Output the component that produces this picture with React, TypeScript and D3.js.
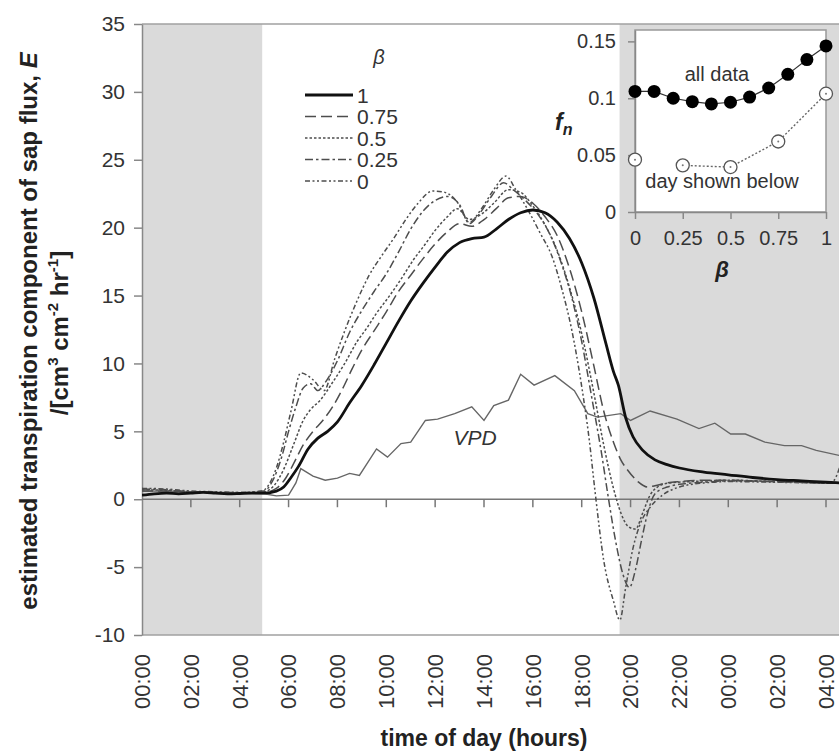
import { useEffect, useRef } from "react";
import * as d3 from "d3";

type Pt = [number, number];

// [hour since midnight of day 1, E (cm3 cm-2 hr-1)]
const beta1: Pt[] = [
  [0, 0.3], [0.5, 0.4], [1, 0.45], [1.5, 0.4], [2, 0.45], [2.5, 0.5], [3, 0.45], [3.5, 0.4],
  [4, 0.42], [4.5, 0.45], [5, 0.45], [5.5, 0.6], [5.8, 0.9], [6.1, 1.6], [6.4, 2.4], [6.8, 3.7],
  [7.2, 4.5], [7.6, 5.0], [8.0, 5.7], [8.5, 7.1], [9.0, 8.4], [9.5, 9.9], [10, 11.5], [10.5, 13.1],
  [11, 14.6], [11.5, 15.9], [12, 17.1], [12.5, 18.2], [13, 18.9], [13.5, 19.2], [14, 19.3],
  [14.5, 19.9], [15, 20.6], [15.5, 21.1], [16, 21.3], [16.5, 21.1], [17, 20.4], [17.5, 19.2],
  [18, 17.4], [18.5, 14.8], [19, 11.4], [19.3, 9.4], [19.5, 8.4], [19.8, 6.0], [20.1, 4.6],
  [20.5, 3.6], [21, 2.9], [21.5, 2.55], [22, 2.3], [23, 2.0], [24, 1.8], [25, 1.6], [26, 1.45],
  [27, 1.35], [28, 1.25], [28.6, 1.2],
];
const beta075: Pt[] = [
  [0, 0.6], [1, 0.6], [2, 0.5], [3, 0.5], [4, 0.45], [5, 0.5], [5.5, 0.8], [5.9, 1.6], [6.2, 2.6],
  [6.6, 4.0], [7.0, 5.0], [7.4, 5.8], [7.8, 6.8], [8.2, 8.1], [8.6, 9.6], [9.0, 11.0], [9.5, 12.4],
  [10, 13.8], [10.5, 15.3], [11, 16.5], [11.5, 17.7], [12, 18.8], [12.5, 19.7], [13, 20.3],
  [13.5, 20.1], [14, 20.6], [14.5, 21.4], [15, 22.2], [15.5, 22.3], [16, 21.8], [16.5, 20.8],
  [17, 19.4], [17.5, 17.0], [18, 13.8], [18.5, 9.8], [18.9, 6.5], [19.3, 4.2], [19.6, 2.9],
  [19.9, 2.1], [20.3, 1.3], [20.7, 0.9], [21, 1.0], [21.5, 1.2], [22, 1.3], [23, 1.4], [24, 1.4],
  [25, 1.35], [26, 1.3], [27, 1.25], [28, 1.2], [28.6, 1.2],
];
const beta05: Pt[] = [
  [0, 0.7], [1, 0.65], [2, 0.55], [3, 0.5], [4, 0.45], [5, 0.55], [5.4, 1.0], [5.8, 2.2],
  [6.2, 4.0], [6.6, 5.8], [6.9, 6.6], [7.3, 7.3], [7.8, 8.6], [8.3, 10.0], [8.8, 11.6], [9.2, 12.6],
  [9.6, 13.7], [10.1, 14.9], [10.6, 16.2], [11.1, 17.6], [11.6, 18.8], [12, 19.8], [12.5, 20.8],
  [12.9, 21.4], [13.4, 20.6], [13.9, 21.0], [14.4, 21.8], [15, 22.8], [15.5, 22.6], [16, 21.6],
  [16.5, 20.2], [17, 18.3], [17.5, 15.6], [18, 12.2], [18.5, 7.8], [18.9, 4.0], [19.3, 0.8],
  [19.6, -1.0], [19.9, -2.0], [20.2, -2.2], [20.5, -1.0], [20.8, 0.3], [21.1, 0.9], [21.6, 1.2],
  [22.5, 1.3], [24, 1.4], [26, 1.3], [28, 1.2], [28.6, 1.2],
];
const beta025: Pt[] = [
  [0, 0.75], [1, 0.7], [2, 0.55], [3, 0.5], [4, 0.5], [5, 0.6], [5.3, 1.2], [5.7, 3.0], [6.0, 5.0],
  [6.3, 6.8], [6.6, 8.2], [6.9, 8.5], [7.2, 8.0], [7.5, 8.6], [8, 10.2], [8.5, 12.3], [9, 13.9],
  [9.5, 15.3], [10, 16.6], [10.5, 18.2], [11, 19.9], [11.5, 21.2], [12, 22.0], [12.5, 22.3],
  [13, 21.7], [13.4, 20.3], [13.8, 21.0], [14.3, 22.3], [14.8, 23.3], [15.2, 22.8], [15.7, 22.0],
  [16.2, 21.0], [16.7, 19.5], [17.2, 17.2], [17.6, 14.8], [18, 11.6], [18.4, 7.6], [18.8, 3.5],
  [19.1, 0.0], [19.4, -3.2], [19.7, -5.6], [19.95, -6.5], [20.2, -5.2], [20.45, -3.0], [20.7, -1.0],
  [21.0, 0.4], [21.5, 0.9], [22, 1.1], [23, 1.25], [24, 1.35], [26, 1.3], [28, 1.2], [28.6, 1.2],
];
const beta0: Pt[] = [
  [0, 0.8], [1, 0.75], [2, 0.6], [3, 0.55], [4, 0.5], [4.9, 0.6], [5.2, 1.1], [5.5, 2.3], [5.8, 4.2],
  [6.1, 6.5], [6.5, 9.3], [7.0, 8.8], [7.45, 8.0], [7.9, 10.4], [8.3, 12.4], [8.8, 14.6], [9.3, 16.5],
  [9.8, 17.9], [10.3, 19.2], [10.8, 20.6], [11.3, 21.8], [11.9, 22.7], [12.4, 22.6], [12.9, 21.9],
  [13.4, 20.4], [13.9, 21.4], [14.4, 22.8], [14.9, 23.8], [15.3, 22.8], [15.8, 21.3], [16.3, 19.6],
  [16.8, 17.8], [17.2, 15.4], [17.6, 12.4], [18.0, 8.3], [18.3, 4.5], [18.55, 0.5], [18.9, -4.5],
  [19.3, -7.5], [19.56, -8.9], [19.8, -6.5], [20.1, -3.6], [20.4, -1.8], [20.8, -0.6], [21.3, 0.3],
  [22, 0.9], [23, 1.2], [24, 1.3], [26, 1.25], [28, 1.2], [28.2, 1.2], [28.45, 1.8], [28.6, 2.6],
];
const vpd: Pt[] = [
  [0, 0.6], [1, 0.6], [2, 0.55], [3, 0.5], [4, 0.45], [5, 0.4], [5.5, 0.25], [6.0, 0.3], [6.3, 1.2],
  [6.5, 2.25], [7.0, 1.7], [7.5, 1.4], [8.0, 1.55], [8.5, 1.9], [8.9, 1.75], [9.6, 3.7], [10.05, 3.1],
  [10.6, 4.1], [11.0, 4.2], [11.6, 5.8], [12.1, 5.9], [12.8, 6.3], [13.5, 6.8], [14.0, 5.8],
  [14.4, 6.9], [15.0, 7.3], [15.5, 9.2], [16.05, 8.4], [16.9, 9.1], [17.7, 8.0], [18.25, 6.3],
  [18.65, 6.05], [19.6, 6.3], [20.0, 5.8], [20.8, 6.5], [21.9, 5.9], [22.8, 5.2], [23.45, 5.6],
  [24.1, 4.8], [24.7, 4.8], [25.5, 4.2], [26.3, 3.95], [27.0, 3.95], [27.6, 3.6], [28.6, 3.2],
];

const betaLabels = ["1", "0.75", "0.5", "0.25", "0"];
const xTickHours = [0, 2, 4, 6, 8, 10, 12, 14, 16, 18, 20, 22, 24, 26, 28];
const xTickLabels = ["00:00", "02:00", "04:00", "06:00", "08:00", "10:00", "12:00", "14:00",
  "16:00", "18:00", "20:00", "22:00", "00:00", "02:00", "04:00"];
const yTicks = [-10, -5, 0, 5, 10, 15, 20, 25, 30, 35];
const nightSpans: Pt[] = [[0, 4.92], [19.55, 30]];

// inset: f_n against beta
const insetBeta = [0, 0.1, 0.2, 0.3, 0.4, 0.5, 0.6, 0.7, 0.8, 0.9, 1];
const insetAll = [0.106, 0.106, 0.1, 0.097, 0.095, 0.0965, 0.101, 0.109, 0.121, 0.134, 0.146];
const insetDayBeta = [0, 0.25, 0.5, 0.75, 1];
const insetDay = [0.046, 0.041, 0.0395, 0.062, 0.104];
const insetXTicks = [0, 0.25, 0.5, 0.75, 1];
const insetYTicks = [0, 0.05, 0.1, 0.15];

const FONT = "'Liberation Sans', Arial, Helvetica, sans-serif";

export default function App() {
  const ref = useRef<SVGSVGElement>(null);

  useEffect(() => {
    if (!ref.current) return;
    const svg = d3.select(ref.current);
    svg.selectAll("*").remove();
    svg.attr("font-family", FONT);

    const left = 142, right = 870, top = 24, bottom = 635;
    const x = d3.scaleLinear().domain([0, 28]).range([142, 826]);
    const y = d3.scaleLinear().domain([-10, 35]).range([bottom, top]);

    // night shading
    svg.append("g")
      .selectAll("rect")
      .data(nightSpans)
      .enter()
      .append("rect")
      .attr("x", (d) => x(d[0]))
      .attr("y", top)
      .attr("width", (d) => x(d[1]) - x(d[0]))
      .attr("height", bottom - top)
      .attr("fill", "#dadada");

    // frame
    svg.append("line").attr("x1", left).attr("x2", right).attr("y1", top).attr("y2", top)
      .attr("stroke", "#a0a0a0").attr("stroke-width", 1.5);
    svg.append("line").attr("x1", left).attr("x2", right).attr("y1", bottom).attr("y2", bottom)
      .attr("stroke", "#a0a0a0").attr("stroke-width", 1.5);

    // y axis
    const yAxis = svg.append("g").attr("transform", `translate(${left},0)`)
      .call(d3.axisLeft(y).tickValues(yTicks).tickSize(8).tickPadding(9).tickSizeOuter(0)
        .tickFormat((d) => String(d)));
    yAxis.select(".domain").attr("stroke", "#888").attr("stroke-width", 1.5);
    yAxis.selectAll(".tick line").attr("stroke", "#888").attr("stroke-width", 1.5);
    yAxis.selectAll("text").attr("font-size", 21).attr("fill", "#333").attr("font-family", FONT);

    // zero line with hour ticks
    svg.append("line").attr("x1", left).attr("x2", right).attr("y1", y(0)).attr("y2", y(0))
      .attr("stroke", "#777").attr("stroke-width", 1.5);
    svg.append("g").selectAll("line").data(xTickHours.slice(1)).enter().append("line")
      .attr("x1", (d) => x(d)).attr("x2", (d) => x(d))
      .attr("y1", y(0)).attr("y2", y(0) + 8)
      .attr("stroke", "#777").attr("stroke-width", 1.5);

    // x tick labels (rotated)
    svg.append("g").selectAll("text").data(xTickHours).enter().append("text")
      .attr("transform", (d) => `translate(${x(d)},654) rotate(-90)`)
      .attr("text-anchor", "end")
      .attr("dy", "0.36em")
      .attr("font-size", 22)
      .attr("fill", "#333")
      .text((d, i) => xTickLabels[i]);

    // axis titles
    svg.append("text")
      .attr("x", 484).attr("y", 746)
      .attr("text-anchor", "middle")
      .attr("font-size", 23).attr("font-weight", "bold").attr("fill", "#222")
      .text("time of day (hours)");

    const t1 = svg.append("text")
      .attr("transform", "translate(37,331) rotate(-90)")
      .attr("text-anchor", "middle")
      .attr("font-size", 24).attr("font-weight", "bold").attr("fill", "#222");
    t1.append("tspan").text("estimated transpiration component of sap flux, ");
    t1.append("tspan").attr("font-style", "italic").text("E");

    const t2 = svg.append("text")
      .attr("transform", "translate(68,333) rotate(-90)")
      .attr("text-anchor", "middle")
      .attr("font-size", 24).attr("font-weight", "bold").attr("fill", "#222");
    t2.append("tspan").text("/[cm");
    t2.append("tspan").attr("font-size", 15).attr("dy", -10).text("3");
    t2.append("tspan").attr("dy", 10).text(" cm");
    t2.append("tspan").attr("font-size", 15).attr("dy", -10).text("-2");
    t2.append("tspan").attr("dy", 10).text(" hr");
    t2.append("tspan").attr("font-size", 15).attr("dy", -10).text("-1");
    t2.append("tspan").attr("dy", 10).text("]");

    // clip for series
    svg.append("defs").append("clipPath").attr("id", "plotclip")
      .append("rect").attr("x", left).attr("y", top).attr("width", right - left).attr("height", bottom - top);
    const plot = svg.append("g").attr("clip-path", "url(#plotclip)");

    // VPD
    const vpdLine = d3.line<Pt>().x((d) => x(d[0])).y((d) => y(d[1]));
    plot.append("path").datum(vpd)
      .attr("fill", "none").attr("stroke", "#666").attr("stroke-width", 1.4)
      .attr("d", vpdLine);

    svg.append("text")
      .attr("x", 475).attr("y", 445)
      .attr("text-anchor", "middle")
      .attr("font-size", 21).attr("font-style", "italic").attr("fill", "#333")
      .text("VPD");

    const series = [beta1, beta075, beta05, beta025, beta0];
    const styles = [
      { w: 2.8, c: "#111", dash: null as string | null },
      { w: 1.5, c: "#4d4d4d", dash: "11 5" },
      { w: 1.5, c: "#4d4d4d", dash: "2.5 2" },
      { w: 1.5, c: "#4d4d4d", dash: "8 3 2.5 3" },
      { w: 1.5, c: "#4d4d4d", dash: "5 2.5 2 2.5 2 2.5" },
    ];
    const line = d3.line<Pt>().curve(d3.curveMonotoneX).x((d) => x(d[0])).y((d) => y(d[1]));

    for (let i = series.length - 1; i >= 0; i--) {
      plot.append("path").datum(series[i])
        .attr("fill", "none")
        .attr("stroke", styles[i].c)
        .attr("stroke-width", styles[i].w)
        .attr("stroke-dasharray", styles[i].dash)
        .attr("stroke-linejoin", "round")
        .attr("d", line);
    }

    // legend
    svg.append("text").attr("x", 379).attr("y", 64).attr("text-anchor", "middle")
      .attr("font-size", 20).attr("font-style", "italic").attr("fill", "#333").text("β");
    const legend = svg.append("g").selectAll("g").data(betaLabels).enter().append("g")
      .attr("transform", (d, i) => `translate(0,${95 + i * 21.5})`);
    legend.append("line")
      .attr("x1", 305).attr("x2", 353).attr("y1", 0).attr("y2", 0)
      .attr("stroke", (d, i) => styles[i].c)
      .attr("stroke-width", (d, i) => styles[i].w)
      .attr("stroke-dasharray", (d, i) => styles[i].dash);
    legend.append("text")
      .attr("x", 357).attr("y", 7.5)
      .attr("font-size", 21).attr("fill", "#333")
      .text((d) => d);

    // inset
    const ix = d3.scaleLinear().domain([0, 1]).range([635, 826]);
    const iy = d3.scaleLinear().domain([0, 0.16]).range([212, 30]);
    const inset = svg.append("g");
    inset.append("rect")
      .attr("x", ix(0)).attr("y", iy(0.16))
      .attr("width", ix(1) - ix(0)).attr("height", iy(0) - iy(0.16))
      .attr("fill", "#fff").attr("stroke", "#999").attr("stroke-width", 1.5);

    const iyAxis = inset.append("g").attr("transform", `translate(${ix(0)},0)`)
      .call(d3.axisLeft(iy).tickValues(insetYTicks).tickSize(7).tickPadding(12).tickSizeOuter(0)
        .tickFormat((d) => String(d)));
    iyAxis.select(".domain").attr("stroke", "#888").attr("stroke-width", 1.5);
    iyAxis.selectAll(".tick line").attr("stroke", "#888").attr("stroke-width", 1.5);
    iyAxis.selectAll("text").attr("font-size", 20).attr("fill", "#333").attr("font-family", FONT);

    const ixAxis = inset.append("g").attr("transform", `translate(0,${iy(0)})`)
      .call(d3.axisBottom(ix).tickValues(insetXTicks).tickSize(7).tickPadding(12).tickSizeOuter(0)
        .tickFormat((d) => String(d)));
    ixAxis.select(".domain").attr("stroke", "#888").attr("stroke-width", 1.5);
    ixAxis.selectAll(".tick line").attr("stroke", "#888").attr("stroke-width", 1.5);
    ixAxis.selectAll("text").attr("font-size", 20).attr("fill", "#333").attr("font-family", FONT);

    inset.append("text").attr("x", 722).attr("y", 277).attr("text-anchor", "middle")
      .attr("font-size", 22).attr("font-weight", "bold").attr("font-style", "italic")
      .attr("fill", "#222").text("β");
    const fn = inset.append("text").attr("x", 555).attr("y", 130)
      .attr("font-size", 23).attr("font-weight", "bold").attr("font-style", "italic").attr("fill", "#222");
    fn.append("tspan").text("f");
    fn.append("tspan").attr("font-size", 16).attr("dy", 5).text("n");

    // day shown below (open circles, dotted)
    const dayPts = insetDayBeta.map((b, i) => [b, insetDay[i]] as Pt);
    inset.append("path").datum(dayPts.slice(1))
      .attr("fill", "none").attr("stroke", "#666").attr("stroke-width", 1.4)
      .attr("stroke-dasharray", "2 2")
      .attr("d", d3.line<Pt>().x((d) => ix(d[0])).y((d) => iy(d[1])));
    inset.append("g").selectAll("circle").data(dayPts).enter().append("circle")
      .attr("cx", (d) => ix(d[0])).attr("cy", (d) => iy(d[1])).attr("r", 6.5)
      .attr("fill", "#fff").attr("stroke", "#555").attr("stroke-width", 1.3);
    inset.append("g").selectAll("circle").data(dayPts).enter().append("circle")
      .attr("cx", (d) => ix(d[0])).attr("cy", (d) => iy(d[1])).attr("r", 1)
      .attr("fill", "#777");

    // all data (filled circles)
    const allPts = insetBeta.map((b, i) => [b, insetAll[i]] as Pt);
    inset.append("path").datum(allPts)
      .attr("fill", "none").attr("stroke", "#333").attr("stroke-width", 1.2)
      .attr("d", d3.line<Pt>().x((d) => ix(d[0])).y((d) => iy(d[1])));
    inset.append("g").selectAll("circle").data(allPts).enter().append("circle")
      .attr("cx", (d) => ix(d[0])).attr("cy", (d) => iy(d[1])).attr("r", 6.5)
      .attr("fill", "#000");

    inset.append("text").attr("x", 717).attr("y", 81).attr("text-anchor", "middle")
      .attr("font-size", 20).attr("fill", "#333").text("all data");
    inset.append("text").attr("x", 722).attr("y", 188).attr("text-anchor", "middle")
      .attr("font-size", 20).attr("fill", "#333").text("day shown below");
  }, []);

  return (
    <svg
      ref={ref}
      width={839}
      height={753}
      style={{ position: "absolute", left: 0, top: 0, background: "#fff" }}
    />
  );
}
